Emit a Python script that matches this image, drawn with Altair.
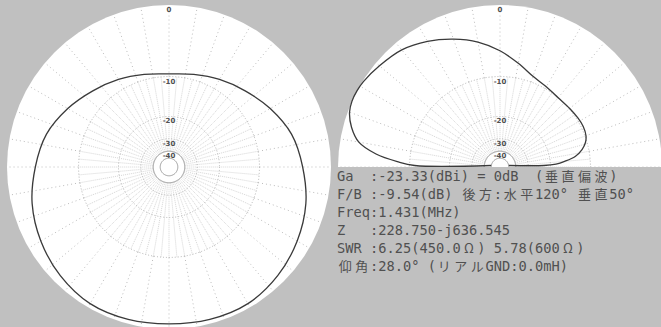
import unicodedata
import altair as alt
import pandas as pd

# ---------------- data ----------------
# Horizontal pattern (left panel): angle in degrees (0 = right, counter-clockwise), gain in dB
h_angle = [0, 15, 30, 45, 60, 75, 90, 105, 120, 135, 150, 165,
           180, 195, 210, 225, 240, 255, 270, 285, 300, 315, 330, 345]
h_db = [-3.3, -4.2, -5.6, -7.0, -8.1, -9.0, -9.5, -9.0, -8.1, -7.0, -5.6, -4.2,
        -3.3, -2.3, -1.55, -0.9, -0.45, -0.45, -0.55, -0.45, -0.45, -0.9, -1.55, -2.3]

# Vertical pattern (right panel): elevation angle seen from the right (0..180), gain in dB
v_angle = [0, 1, 3, 5, 8, 12, 16, 20, 26, 32, 40, 50, 60, 70, 80, 90, 100, 110,
           120, 130, 140, 148, 152, 156, 160, 165, 170, 174, 177, 179, 180]
v_db = [-50, -22.4, -18.2, -15.7, -13.0, -11.3, -10.3, -9.8, -9.6, -9.7, -9.9, -10.0,
        -9.6, -8.9, -7.4, -5.7, -4.2, -3.0, -1.9, -1.0, -0.5, -0.1, 0.0, 0.0, -0.2,
        -0.9, -2.1, -4.5, -7.8, -11.0, -50]

ring_dotted_db = [-10, -20, -30]
ring_solid_db = [-40, -50]
label_db = [0, -10, -20, -30, -40]
label_text = ["0", "-10", "-20", "-30", "-40"]

info_lines = [
    "Ga  :-23.33(dBi) = 0dB  (垂直偏波)",
    "F/B :-9.54(dB) 後方:水平120° 垂直50°",
    "Freq:1.431(MHz)",
    "Z   :228.750-j636.545",
    "SWR :6.25(450.0Ω) 5.78(600Ω)",
    "仰角:28.0° (リアルGND:0.0mH)",
]

# ---------------- layout ----------------
R = 162.0
panels = [("h", 0.0), ("v", 331.0)]
XS = alt.Scale(domain=[-169, 492], nice=False, zero=False)
YS = alt.Scale(domain=[-160, 167], nice=False, zero=False)
RHO = "pow(0.89, -datum.db / 2)"


def X(f):
    return alt.X(f, type="quantitative", scale=XS, axis=None)


def Y(f):
    return alt.Y(f, type="quantitative", scale=YS, axis=None)


# white discs
df_disc = pd.DataFrame({"cx": [c for _, c in panels], "cy": [0.0, 0.0]})
discs = alt.Chart(df_disc).mark_point(
    shape="circle", filled=True, color="white", opacity=1, strokeWidth=0
).encode(x=X("cx"), y=Y("cy"), size=alt.value((2 * R) ** 2))


def ring_layer(levels, dash, color, width):
    df = pd.DataFrame([{"cx": c, "db": d} for _, c in panels for d in levels])
    return alt.Chart(df).transform_calculate(
        r=f"{R} * {RHO}", s="pow(2 * datum.r, 2)", cy="0"
    ).mark_point(
        shape="circle", filled=False, color=color, opacity=1,
        strokeWidth=width, strokeDash=dash
    ).encode(x=X("cx"), y=Y("cy"), size=alt.Size("s:Q", scale=None, legend=None))


rings_dotted = ring_layer(ring_dotted_db, [1, 2], "#b4b4b4", 1)
rings_solid = ring_layer(ring_solid_db, [1, 0], "#9a9a9a", 1)


def spoke_layer(step, db0, db1, dash, color):
    rows = []
    for _, c in panels:
        for a in range(0, 360, step):
            rows.append({"cx": c, "a": a, "db0": db0, "db1": db1})
    df = pd.DataFrame(rows)
    return alt.Chart(df).transform_calculate(
        r0=f"{R} * pow(0.89, -datum.db0 / 2)",
        r1=f"{R} * pow(0.89, -datum.db1 / 2)",
        x=f"datum.cx + datum.r0 * cos(datum.a * PI / 180)",
        y=f"datum.r0 * sin(datum.a * PI / 180)",
        x2=f"datum.cx + datum.r1 * cos(datum.a * PI / 180)",
        y2=f"datum.r1 * sin(datum.a * PI / 180)",
    ).mark_rule(strokeDash=dash, color=color, strokeWidth=1).encode(
        x=X("x"), y=Y("y"), x2="x2:Q", y2="y2:Q"
    )


spokes_outer = spoke_layer(10, -10, 0, [1, 3], "#bdbdbd")
spokes_inner = spoke_layer(5, -40, -10, [1, 1], "#d6d6d6")

# grey cover for lower half of the vertical (right) panel
df_cover = pd.DataFrame({"x1": [164.0], "x2": [492.0], "y1": [0.0], "y2": [-160.0]})
cover = alt.Chart(df_cover).mark_rect(color="#c0c0c0").encode(
    x=X("x1"), x2="x2:Q", y=Y("y1"), y2="y2:Q"
)

# pattern traces
df_h = pd.DataFrame({"a": h_angle, "db": h_db, "i": range(len(h_angle))})
trace_h = alt.Chart(df_h).transform_calculate(
    r=f"{R} * {RHO}",
    x="datum.r * cos(datum.a * PI / 180)",
    y="datum.r * sin(datum.a * PI / 180)",
).mark_line(interpolate="cardinal-closed", color="#3a3a3a", strokeWidth=1.3).encode(
    x=X("x"), y=Y("y"), order="i:Q"
)

df_v = pd.DataFrame({"a": v_angle, "db": v_db, "i": range(len(v_angle))})
trace_v = alt.Chart(df_v).transform_calculate(
    r=f"{R} * {RHO}",
    x="331 + datum.r * cos(datum.a * PI / 180)",
    y="max(datum.r * sin(datum.a * PI / 180), 1.5)",
).mark_line(interpolate="catmull-rom", color="#3a3a3a", strokeWidth=1.3).encode(
    x=X("x"), y=Y("y"), order="i:Q"
)

# ring labels
df_lab = pd.DataFrame([{"cx": c, "db": d, "t": t} for _, c in panels
                       for d, t in zip(label_db, label_text)])
labels = alt.Chart(df_lab).transform_calculate(
    y=f"{R} * {RHO} - 5"
).mark_text(fontSize=7, color="#505050", font="DejaVu Sans", fontWeight="bold").encode(
    x=X("cx"), y=Y("y"), text="t:N"
)

# info text: split into half-width runs and single full-width characters (column grid)
def is_wide(ch):
    return unicodedata.east_asian_width(ch) in ("W", "F") or ch == "Ω"


rows = []
for li, line in enumerate(info_lines):
    col = 0
    run, run_col = "", 0
    for ch in line:
        if is_wide(ch) or ch == " ":
            if run:
                rows.append({"line": li, "col": run_col, "seg": run, "wide": False})
                run = ""
            if is_wide(ch):
                rows.append({"line": li, "col": col, "seg": ch, "wide": True})
                col += 2
            else:
                col += 1
        else:
            if not run:
                run_col = col
            run += ch
            col += 1
    if run:
        rows.append({"line": li, "col": run_col, "seg": run, "wide": False})
df_txt = pd.DataFrame(rows)

text_narrow = alt.Chart(df_txt).transform_filter("!datum.wide").transform_calculate(
    x="168 + datum.col * 8.25", y="167 - (176.6 + 18.1 * datum.line)"
).mark_text(align="left", baseline="middle", font="DejaVu Sans Mono",
            fontSize=13.7, color="#505050").encode(x=X("x"), y=Y("y"), text="seg:N")

text_wide = alt.Chart(df_txt).transform_filter("datum.wide").transform_calculate(
    x="168 + (datum.col + 1) * 8.25", y="167 - (176.6 + 18.1 * datum.line)"
).mark_text(align="center", baseline="middle", font="Noto Sans CJK JP",
            fontSize=13, color="#505050").encode(x=X("x"), y=Y("y"), text="seg:N")

chart = alt.layer(
    discs, spokes_inner, spokes_outer, rings_dotted, rings_solid, cover,
    labels, trace_h, trace_v, text_narrow, text_wide
).properties(
    width=661, height=327, background="#c0c0c0", padding=0, autosize="none"
).configure_view(stroke=None)

chart.save("out.html", embed_options={"renderer": "svg", "actions": False})
